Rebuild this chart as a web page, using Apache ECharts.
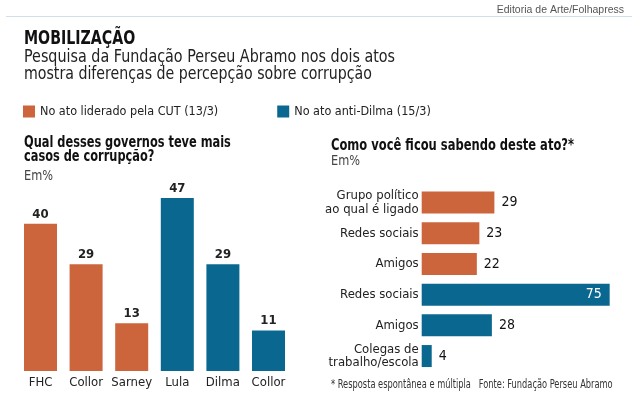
<!DOCTYPE html>
<html>
<head>
<meta charset="utf-8">
<script src="https://cdn.jsdelivr.net/npm/echarts@6/dist/echarts.min.js"></script>
<style>
html,body{margin:0;padding:0;background:#fff;}
#c{width:632px;height:403px;}
</style>
</head>
<body>
<div id="c"></div>
<script>
// ---- data ----
const seriesNames = ['No ato liderado pela CUT (13/3)', 'No ato anti-Dilma (15/3)'];
const govCategories = ['FHC', 'Collor', 'Sarney', 'Lula', 'Dilma', 'Collor'];
const govCUT = [40, 29, 13, '-', '-', '-'];
const govAnti = ['-', '-', '-', 47, 29, 11];
const howCategories = ['Grupo político\nao qual é ligado', 'Redes sociais', 'Amigos', 'Redes sociais', 'Amigos', 'Colegas de\ntrabalho/escola'];
const howCUT = [29, 23, 22, '-', '-', '-'];
const howAnti = ['-', '-', '-', 75, 28, 4];

const ORANGE = '#cc643c';
const BLUE = '#0a6890';
const F = "'Liberation Sans Narrow','DejaVu Sans Condensed','Roboto Condensed','Arial Narrow',sans-serif";

const chart = echarts.init(document.getElementById('c'), null, {renderer: 'canvas'});

// text helper: y is the visual middle of the line; sx condenses horizontally
function txt(x, y, text, size, weight, color, align, sx, family) {
  return {type: 'text', x: x, y: y, scaleX: sx || 1, scaleY: 1,
    style: {text: text, font: (weight || 'normal') + ' ' + size + 'px ' + (family || F),
      fill: color || '#222', align: align || 'left', verticalAlign: 'middle'}};
}

const labelInside = howAnti.map(function (v) {
  return (v !== '-' && v > 60) ? {value: v, label: {position: 'insideRight', distance: 8, color: '#fff'}} : v;
});

chart.setOption({
  animation: false,
  backgroundColor: '#fff',
  legend: {
    data: seriesNames,
    left: 18, top: 100,
    itemWidth: 12, itemHeight: 12, itemGap: 59,
    icon: 'rect',
    textStyle: {fontFamily: F, fontSize: 12.5, color: '#222'}
  },
  grid: [
    {left: 17.7, top: 187, width: 273.6, height: 184},
    {left: 421.7, top: 187.2, width: 200.5, height: 184.2}
  ],
  xAxis: [
    {gridIndex: 0, type: 'category', data: govCategories,
     axisLine: {show: false}, axisTick: {show: false},
     axisLabel: {interval: 0, fontFamily: F, fontSize: 13, color: '#222', margin: 5}},
    {gridIndex: 1, type: 'value', min: 0, max: 80, show: false}
  ],
  yAxis: [
    {gridIndex: 0, type: 'value', min: 0, max: 50, show: false},
    {gridIndex: 1, type: 'category', data: howCategories, inverse: true,
     axisLine: {show: false}, axisTick: {show: false},
     axisLabel: {interval: 0, fontFamily: F, fontSize: 13, color: '#222', margin: 3, lineHeight: 13.5, align: 'right'}}
  ],
  series: [
    {name: seriesNames[0], type: 'bar', xAxisIndex: 0, yAxisIndex: 0, data: govCUT, barWidth: 33, barGap: '-100%',
     itemStyle: {color: ORANGE},
     label: {show: true, position: 'top', distance: 3, fontFamily: F, fontSize: 13, fontWeight: 'bold', color: '#222'}},
    {name: seriesNames[1], type: 'bar', xAxisIndex: 0, yAxisIndex: 0, data: govAnti, barWidth: 33, barGap: '-100%',
     itemStyle: {color: BLUE},
     label: {show: true, position: 'top', distance: 3, fontFamily: F, fontSize: 13, fontWeight: 'bold', color: '#222'}},
    {name: seriesNames[0], type: 'bar', xAxisIndex: 1, yAxisIndex: 1, data: howCUT, barWidth: 22, barGap: '-100%',
     itemStyle: {color: ORANGE},
     label: {show: true, position: 'right', distance: 7, fontFamily: F, fontSize: 14, color: '#111'}},
    {name: seriesNames[1], type: 'bar', xAxisIndex: 1, yAxisIndex: 1, data: labelInside, barWidth: 22, barGap: '-100%',
     itemStyle: {color: BLUE},
     label: {show: true, position: 'right', distance: 7, fontFamily: F, fontSize: 14, color: '#111'}}
  ],
  graphic: [
    {type: 'line', shape: {x1: 6, y1: 16.5, x2: 632, y2: 16.5}, style: {stroke: '#cfe0ea', lineWidth: 1}},
    txt(624, 10, 'Editoria de Arte/Folhapress', 10.5, 'normal', '#555', 'right', 1, "'Liberation Sans',Arial,sans-serif"),
    txt(24, 39, 'MOBILIZAÇÃO', 19, 'bold', '#111', 'left', 0.83),
    txt(24, 57.5, 'Pesquisa da Fundação Perseu Abramo nos dois atos', 18, 'normal', '#222', 'left', 0.885),
    txt(24, 74, 'mostra diferenças de percepção sobre corrupção', 18, 'normal', '#222', 'left', 0.875),
    txt(24, 142.5, 'Qual desses governos teve mais', 16, 'bold', '#111', 'left', 0.79),
    txt(24, 157, 'casos de corrupção?', 16, 'bold', '#111', 'left', 0.79),
    txt(24, 176.5, 'Em%', 14, 'normal', '#444', 'left', 0.9),
    txt(331, 145.5, 'Como você ficou sabendo deste ato?*', 16, 'bold', '#111', 'left', 0.8),
    txt(331, 161, 'Em%', 14, 'normal', '#444', 'left', 0.9),
    txt(331, 385, '* Resposta espontânea e múltipla   Fonte: Fundação Perseu Abramo', 11.5, 'normal', '#333', 'left', 0.8)
  ]
});
</script>
</body>
</html>
